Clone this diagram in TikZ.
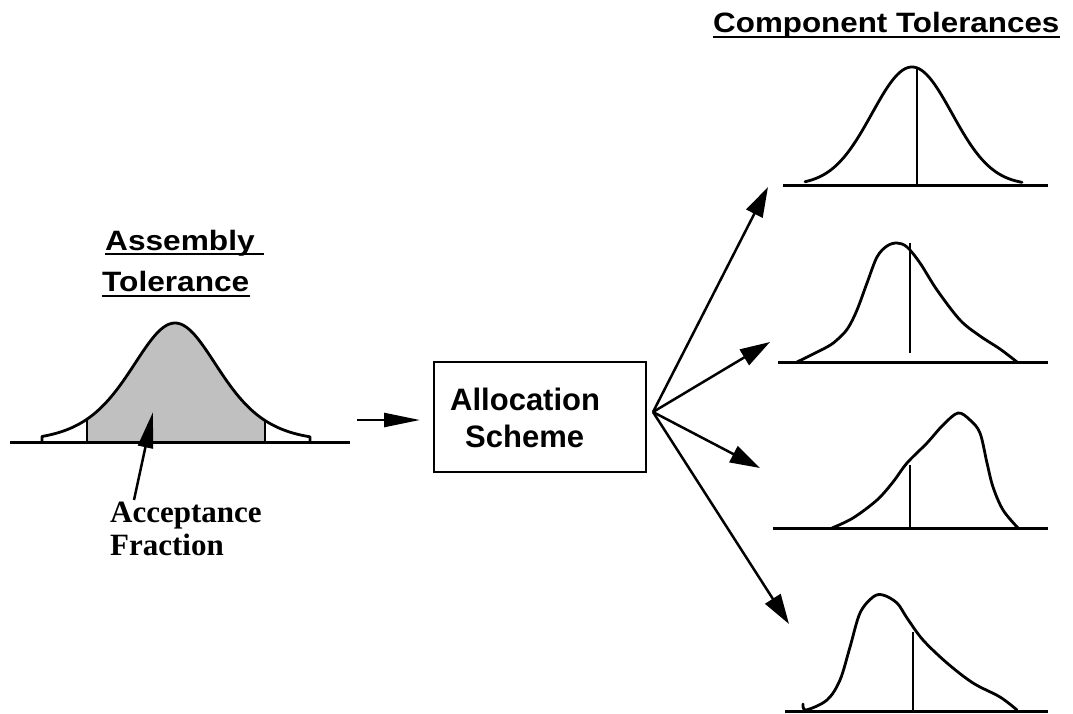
\documentclass[tikz,border=0pt]{standalone}
\usepackage{fontspec}
\setmainfont{Liberation Serif}
\setsansfont{Liberation Sans}
\usetikzlibrary{arrows.meta}
\definecolor{accgray}{HTML}{C0C0C0}
\begin{document}
\begin{tikzpicture}[x=1pt,y=-1pt,
  curve/.style={line width=2.8pt, line join=round, line cap=round},
  axis/.style={line width=3pt},
  mark line/.style={line width=2.4pt},
  title/.style={font=\sffamily\bfseries\fontsize{28}{30}\selectfont, inner sep=0pt, anchor=base west},
  ulin/.style={line width=2.8pt},
  boxtext/.style={font=\sffamily\bfseries\fontsize{31}{33}\selectfont, inner sep=0pt, anchor=base west},
  serif label/.style={font=\rmfamily\bfseries\fontsize{31}{33}\selectfont, inner sep=0pt, anchor=base west},
  fanarrow/.style={line width=2.5pt, -{Triangle[length=30pt,width=18pt]}},
  inarrow/.style={line width=2.5pt, -{Triangle[length=36pt,width=14pt]}},
  accarrow/.style={line width=2.5pt, -{Triangle[length=36pt,width=15pt]}}
]
\useasboundingbox (0,0) rectangle (1073,713);

% ---------- Assembly tolerance ----------
\fill[fill=accgray] (87,442) -- plot[domain=87:265, samples=80] (\x, {442-119/(cosh((\x-175)/60)^2)}) -- (265,442) -- cycle;
\draw[curve] (42,442) -- plot[domain=42:310, samples=160] (\x, {442-119/(cosh((\x-175)/60)^2)}) -- (310,442);
\draw[mark line] (87,442) -- (87,{442-119/(cosh((87-175)/60)^2)});
\draw[mark line] (265,442) -- (265,{442-119/(cosh((265-175)/60)^2)});
\draw[axis] (10,442) -- (350,442);

\node[title] (asm1) at (105,250) {\scalebox{1.13}[1]{Assembly\ }};
\node[title] (asm2) at (102,291) {\scalebox{1.13}[1]{Tolerance}};
\draw[ulin] ([yshift=-4pt]asm1.base west) -- ([yshift=-4pt]asm1.base east);
\draw[ulin] ([yshift=-5pt]asm2.base west) -- ([yshift=-5pt]asm2.base east);

\node[serif label] (acc1) at (110,522) {Acceptance};
\node[serif label] (acc2) at (110,555) {Fraction};
\coordinate (accTail) at (134,500);
\coordinate (accTip) at (153,412);
\draw[accarrow] (accTail) -- (accTip);

% ---------- Allocation scheme ----------
\node[draw, line width=2.8pt, minimum width=212pt, minimum height=110pt, inner sep=0pt] (box) at (540,417) {};
\node[boxtext] (alloc1) at (450,410) {Allocation};
\node[boxtext] (alloc2) at (465,447) {Scheme};
\coordinate (inTail) at (357,420);
\coordinate (inTip) at (420,420);
\draw[inarrow] (inTail) -- (inTip);

% ---------- fan of arrows ----------
\coordinate (fan) at (653,412);
\coordinate (t1) at (768,187);
\coordinate (t2) at (770,342);
\coordinate (t3) at (760,468);
\coordinate (t4) at (789,624);
\draw[fanarrow] (fan) -- (t1);
\draw[fanarrow] (fan) -- (t2);
\draw[fanarrow] (fan) -- (t3);
\draw[fanarrow] (fan) -- (t4);

% ---------- Component tolerances ----------
\node[title] (comp) at (713,32) {\scalebox{1.12}[1]{Component Tolerances}};
\draw[ulin] ([yshift=-5pt]comp.base west) -- ([yshift=-5pt]comp.base east);

% curve 1
\draw[curve] plot[domain=805:1022, samples=140] (\x, {185-118*exp(-0.5*((\x-912)/40)^2)});
\draw[mark line] (917,67) -- (917,185);
\draw[axis] (783,185) -- (1048,185);

% curve 2
\draw[curve] plot[smooth, tension=0.55] coordinates {(797,362) (827,347) (838,339) (848,328) (857,310) (867,283) (877,257) (887,246) (897,243) (907,247) (920,263) (937,290) (960,320) (980,336) (1000,349) (1017,362)};
\draw[mark line] (910,243) -- (910,353);
\draw[axis] (778,362) -- (1048,362);

% curve 3
\draw[curve] plot[smooth, tension=0.55] coordinates {(832,528) (853,518) (877,500) (893,482) (907,463) (927,443) (943,425) (958,413) (970,420) (980,433) (987,463) (993,487) (1003,510) (1018,528)};
\draw[mark line] (910,465) -- (910,528);
\draw[axis] (773,528) -- (1048,528);

% curve 4
\draw[curve] plot[smooth, tension=0.55] coordinates {(803,704) (806,710) (827,700) (840,680) (850,647) (860,613) (873,597) (883,595) (897,603) (907,618) (923,640) (947,663) (973,683) (1000,697) (1017,710)};
\draw[mark line] (913,632) -- (913,711);
\draw[axis] (785,711) -- (1048,711);
\end{tikzpicture}
\end{document}
